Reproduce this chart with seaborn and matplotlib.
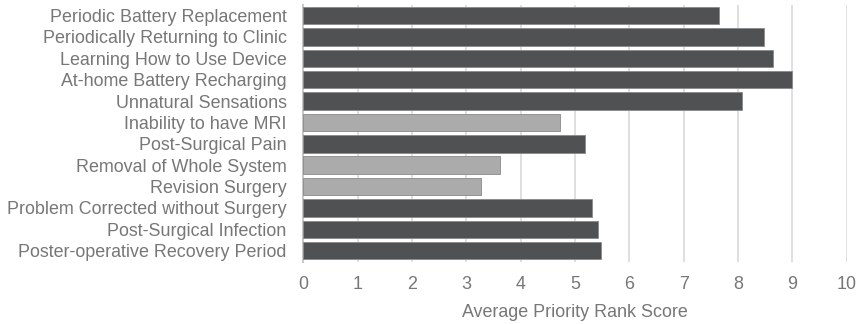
import pandas as pd
import matplotlib.pyplot as plt
import seaborn as sns

categories = [
    "Periodic Battery Replacement",
    "Periodically Returning to Clinic",
    "Learning How to Use Device",
    "At-home Battery Recharging",
    "Unnatural Sensations",
    "Inability to have MRI",
    "Post-Surgical Pain",
    "Removal of Whole System",
    "Revision Surgery",
    "Problem Corrected without Surgery",
    "Post-Surgical Infection",
    "Poster-operative Recovery Period",
]
scores = [7.65, 8.48, 8.64, 8.99, 8.07, 4.72, 5.18, 3.61, 3.27, 5.32, 5.42, 5.48]
group = ["dark", "dark", "dark", "dark", "dark", "light", "dark",
         "light", "light", "dark", "dark", "dark"]
xticks = list(range(0, 11))

df = pd.DataFrame({"category": categories, "score": scores, "group": group})

sns.set_theme(style="white")
plt.rcParams["font.family"] = ["Liberation Sans", "DejaVu Sans"]
text_col = "#777777"

fig, ax = plt.subplots(figsize=(8.57, 3.24), dpi=100)
fig.subplots_adjust(left=0.354, right=0.988, top=0.985, bottom=0.19)

sns.barplot(data=df, x="score", y="category", hue="group",
            palette={"dark": "#505153", "light": "#ababac"},
            width=0.82, edgecolor="#8a8a8a", linewidth=0.6,
            dodge=False, legend=False, ax=ax, zorder=3)

ax.set_xlim(0, 10)
ax.set_ylim(11.55, -0.5)
ax.set_xticks(xticks)
ax.grid(axis="x", color="#d9d9d9", linewidth=1.2, zorder=0)
ax.set_axisbelow(True)
for s in ["top", "right", "bottom"]:
    ax.spines[s].set_visible(False)
ax.spines["left"].set_color("#c8c8c8")
ax.spines["left"].set_linewidth(1.5)

ax.tick_params(axis="both", length=0, labelsize=12.85, labelcolor=text_col)
ax.tick_params(axis="x", pad=10)
ax.tick_params(axis="y", pad=12)
ax.set_ylabel("")
ax.set_xlabel("Average Priority Rank Score", fontsize=12.85, color=text_col, labelpad=8)

fig.savefig("out.png", dpi=100)
